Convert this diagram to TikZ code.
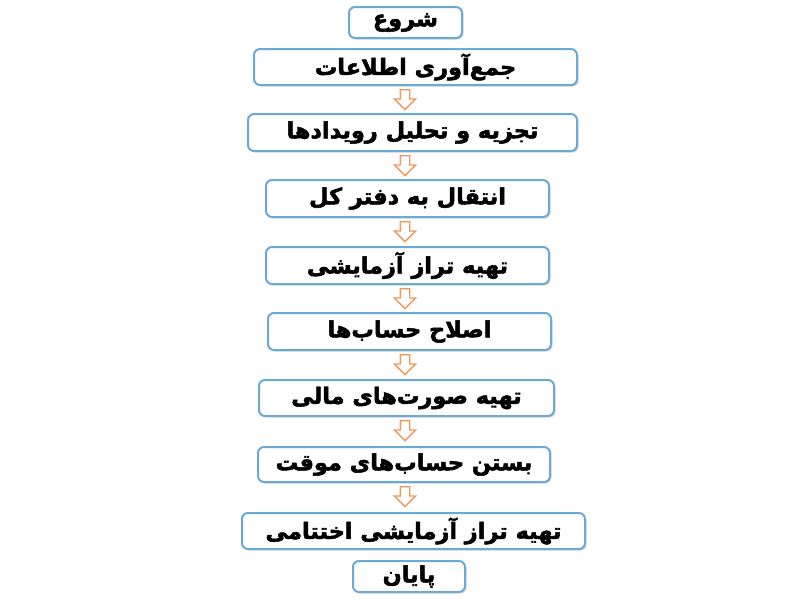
\documentclass[tikz,border=0pt]{standalone}
\usepackage{fontspec}
\newfontfamily\farsifont[Script=Arabic, BoldFeatures={FakeBold=2.2}]{DejaVu Sans}
\TeXXeTstate=1
\usetikzlibrary{calc,shapes.arrows,shadows}

\definecolor{boxblue}{RGB}{108,170,214}
\definecolor{arroworange}{RGB}{240,152,92}

\tikzset{
  stepbox/.style={draw=boxblue, line width=1pt, rounded corners=3pt, fill=white,
    inner sep=0pt, font=\farsifont\bfseries\fontsize{11.2}{12}\selectfont,
    drop shadow={shadow xshift=0.8pt, shadow yshift=-0.8pt, fill=black, opacity=0.15}},
  downarrow/.style={single arrow, draw=arroworange, line width=0.7pt, fill=white,
    shape border rotate=270, minimum height=10pt, minimum width=10pt,
    single arrow head extend=3pt, inner sep=2pt, anchor=tail}
}

\begin{document}
\begin{tikzpicture}[x=0.5pt, y=-0.5pt]
                \useasboundingbox (0,0) rectangle (800,600);
                \coordinate (axis) at (405,0);
                % boxes
                \node[stepbox, minimum width=56.5pt, minimum height=15.5pt] (b1) at (405.5,22.5) {\beginR شروع\endR};
                \node[stepbox, minimum width=161.5pt, minimum height=18pt] (b2) at (415.5,67) {\beginR جمع‌آوری اطلاعات\endR};
                \node[stepbox, minimum width=164.5pt, minimum height=18.5pt] (b3) at (412.5,132.5) {\beginR تجزیه و تحلیل رویدادها\endR};
                \node[stepbox, minimum width=141.5pt, minimum height=18.5pt] (b4) at (407.5,198.5) {\beginR انتقال به دفتر کل\endR};
                \node[stepbox, minimum width=141.5pt, minimum height=18.5pt] (b5) at (407.5,265.5) {\beginR تهیه تراز آزمایشی\endR};
                \node[stepbox, minimum width=141.5pt, minimum height=18.5pt] (b6) at (409.5,331.5) {\beginR اصلاح حساب‌ها\endR};
                \node[stepbox, minimum width=147.5pt, minimum height=18pt] (b7) at (406.5,398) {\beginR تهیه صورت‌های مالی\endR};
                \node[stepbox, minimum width=146pt, minimum height=17.5pt] (b8) at (404,464.5) {\beginR بستن حساب‌های موقت\endR};
                \node[stepbox, minimum width=171.5pt, minimum height=18pt] (b9) at (413.5,531) {\beginR تهیه تراز آزمایشی اختتامی\endR};
                \node[stepbox, minimum width=56pt, minimum height=15.5pt] (b10) at (409,576.5) {\beginR پایان\endR};
                % arrows
                \node[downarrow] (a23) at ($(axis |- b2.south)+(0,3)$) {};
                \node[downarrow] (a34) at ($(axis |- b3.south)+(0,3)$) {};
                \node[downarrow] (a45) at ($(axis |- b4.south)+(0,3)$) {};
                \node[downarrow] (a56) at ($(axis |- b5.south)+(0,3)$) {};
                \node[downarrow] (a67) at ($(axis |- b6.south)+(0,3)$) {};
                \node[downarrow] (a78) at ($(axis |- b7.south)+(0,3)$) {};
                \node[downarrow] (a89) at ($(axis |- b8.south)+(0,3)$) {};
            \end{tikzpicture}
\end{document}
